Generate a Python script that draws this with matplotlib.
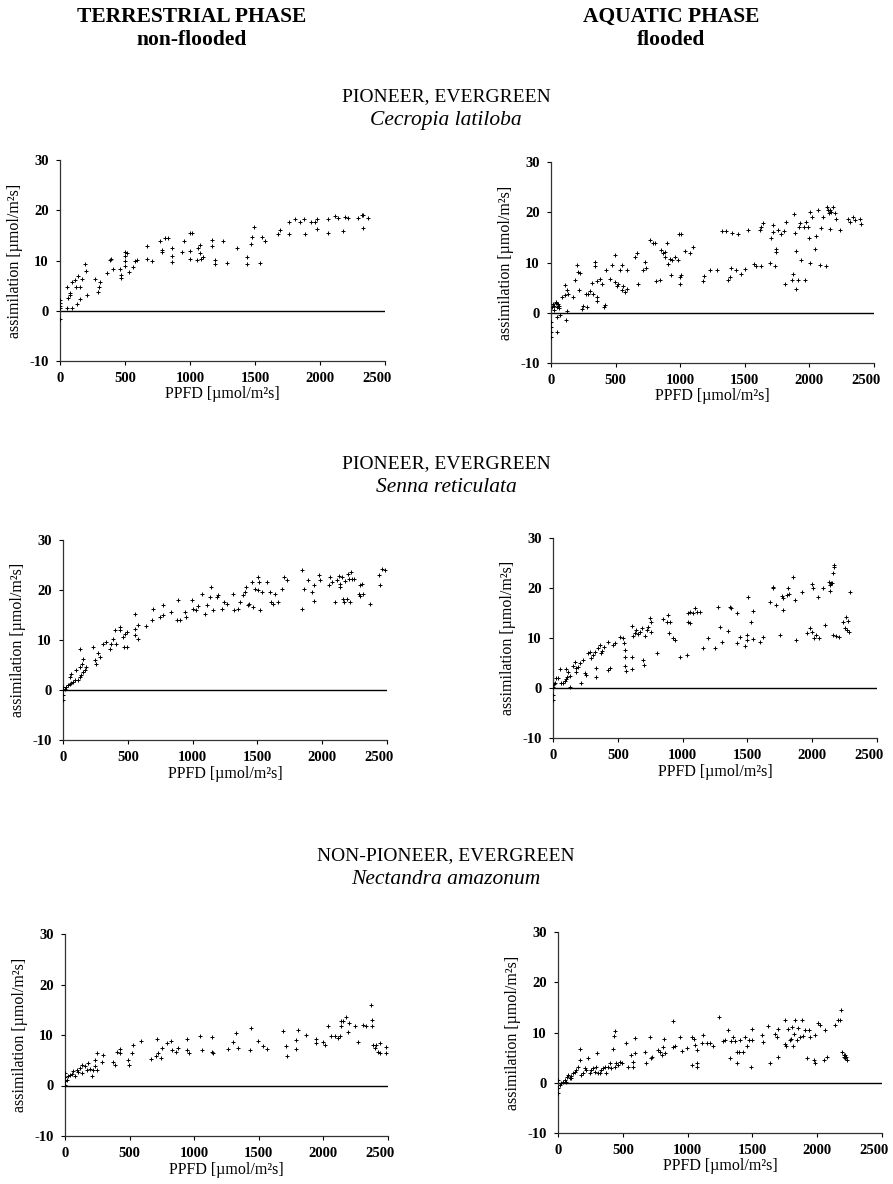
import matplotlib
matplotlib.use("Agg")
import matplotlib.pyplot as plt
import matplotlib.transforms as mtransforms

plt.rcParams['font.family'] = ['Liberation Serif', 'DejaVu Serif']
plt.rcParams['axes.unicode_minus'] = False

# ---- data ----
# Cecropia latiloba, terrestrial
cec_t_x = [0, 0, 0, 0, 0, 51, 64, 77, 80, 51, 90, 115, 123, 141, 154, 133, 154, 167, 90,
           192, 197, 205, 269, 295, 300, 308, 385, 392, 410, 364, 462, 467, 467, 513, 531,
           500, 500, 500, 500, 564, 577, 595, 667, 667, 705, 769, 782, 782, 808, 833,
           859, 859, 859, 936, 956, 1000, 1000, 1013, 1000, 1051, 1064, 1077, 1077, 1085,
           1097, 1167, 1167, 1192, 1192, 1256, 1287, 1364, 1436, 1436, 1467, 1474, 1492,
           1538, 1551, 1577, 1679, 1692, 1764, 1764, 1808, 1846, 1877, 1885, 1928, 1962,
           1979, 1979, 2064, 2064, 2115, 2141, 2179, 2192, 2218, 2295, 2321, 2333, 2333, 2372]
cec_t_y = [2.2, 1.5, 1.0, 0.5, -1.7, 0.5, 2.5, 3.2, 3.5, 4.8, 5.8, 6.1, 4.8, 6.9, 4.8, 1.4, 2.4, 6.3, 0.5,
           9.3, 8.0, 3.2, 6.3, 3.8, 4.8, 5.7, 10.1, 10.3, 8.3, 7.6, 8.4, 7.1, 6.5, 11.4, 7.7,
           11.7, 10.9, 10.0, 9.0, 8.8, 9.9, 10.1, 12.9, 10.3, 9.9, 13.9, 12.1, 11.7, 14.4, 14.4,
           12.4, 10.9, 9.8, 11.7, 13.9, 11.9, 15.4, 15.4, 10.3, 10.1, 12.4, 13.1, 11.4, 10.3,
           10.6, 14.1, 12.9, 10.1, 9.3, 13.9, 9.6, 12.5, 10.6, 9.3, 13.3, 14.6, 16.7,
           9.6, 14.6, 13.9, 15.2, 16.0, 15.2, 17.7, 18.3, 17.7, 18.2, 15.2, 17.7, 17.7,
           18.3, 16.2, 18.2, 15.5, 18.8, 18.5, 15.9, 18.7, 18.5, 18.5, 19.0, 19.1, 16.5, 18.5]

# Cecropia latiloba, aquatic
cec_a_x = [0, 0, 0, 0, 44, 44, 70, 5, 15, 25, 35, 45, 55, 65, 20, 40, 60, 82, 108, 108, 121,
           134, 116, 121, 173, 185, 198, 206, 219, 224, 237, 250, 270, 276, 289, 301, 314,
           327, 340, 340, 353, 358, 353, 379, 391, 409, 417, 425, 456, 469, 495, 495, 507,
           520, 533, 546, 546, 559, 572, 585, 585, 649, 662, 675, 714, 727, 739, 765, 791,
           804, 812, 843, 855, 868, 881, 881, 894, 907, 920, 925, 940, 958, 984, 992, 1010,
           997, 997, 1010, 1036, 1075, 1100, 1173, 1183, 1229, 1281, 1327, 1353, 1371, 1389,
           1397, 1404, 1435, 1448, 1474, 1500, 1526, 1572, 1590, 1629, 1616, 1629, 1642,
           1693, 1706, 1719, 1719, 1732, 1740, 1745, 1758, 1783, 1801, 1809, 1822, 1868,
           1874, 1879, 1886, 1894, 1899, 1912, 1920, 1930, 1938, 1956, 1963, 1971, 1989,
           1997, 2002, 2007, 2023, 2041, 2054, 2067, 2080, 2093, 2106, 2131, 2136, 2144,
           2152, 2157, 2162, 2170, 2183, 2196, 2208, 2234, 2299, 2317, 2337, 2350, 2388, 2401]
cec_a_y = [-1.9, -2.9, -3.9, -4.9, -3.9, -0.9, -0.5, 1.2, 1.8, 1.4, 2.0, 1.1, 1.7, 1.3, 0.6, 2.2, 0.9,
           3.1, 3.5, 5.5, 4.6, 3.8, -1.5, 0.3, 3.1, 6.5, 9.5, 8.1, 4.5, 7.9, 0.8, 1.3, 3.8, 1.1,
           3.8, 4.3, 5.9, 3.8, 10.1, 9.3, 3.1, 2.3, 6.3, 6.8, 5.8, 1.1, 1.5, 8.6, 6.8, 9.5,
           11.5, 6.1, 5.3, 5.8, 8.5, 9.5, 4.6, 5.3, 4.1, 4.8, 8.5, 11.0, 11.9, 5.8, 8.6, 10.1,
           9.0, 14.5, 13.9, 13.9, 6.3, 6.5, 12.5, 11.9, 12.1, 11.0, 13.8, 9.8, 10.6, 7.5, 10.5,
           11.0, 10.5, 15.6, 15.6, 7.1, 5.8, 7.6, 12.3, 11.9, 13.1, 6.3, 7.3, 8.6, 8.6, 16.3,
           16.3, 6.5, 7.1, 8.9, 15.8, 8.5, 15.6, 7.7, 8.8, 16.5, 9.8, 9.3, 9.3, 16.5, 17.1,
           17.9, 9.9, 14.8, 16.1, 17.5, 9.3, 12.6, 12.1, 16.5, 15.7, 16.3, 5.7, 18.1, 6.6,
           7.8, 19.6, 15.8, 12.3, 4.8, 6.6, 17.1, 17.8, 10.5, 17.1, 6.5, 18.1, 17.1, 14.8,
           20.1, 9.9, 19.0, 12.6, 15.3, 20.5, 9.5, 16.8, 19.1, 9.3, 21.0, 20.5, 19.8, 16.6,
           20.4, 20.0, 21.1, 19.8, 18.6, 16.5, 18.6, 18.1, 19.0, 18.5, 18.6, 17.6]

# Senna reticulata, terrestrial
sen_t_x = [0, 0, 0, 0, 13, 26, 39, 52, 64, 77, 52, 64, 90, 103, 116, 129, 142, 150, 129, 155, 168,
           129, 155, 180, 232, 245, 258, 271, 283, 309, 335, 361, 374, 399, 387, 412, 438,
           438, 464, 477, 490, 469, 490, 554, 554, 554, 575, 575, 644, 683, 696, 747, 768,
           773, 837, 876, 902, 889, 941, 948, 992, 1005, 1025, 1044, 1069, 1095, 1108, 1134,
           1139, 1160, 1185, 1198, 1224, 1242, 1262, 1314, 1322, 1353, 1366, 1392, 1405,
           1412, 1430, 1438, 1456, 1469, 1482, 1507, 1507, 1515, 1520, 1533, 1572, 1598,
           1606, 1624, 1636, 1662, 1688, 1706, 1731, 1843, 1843, 1856, 1894, 1920, 1933,
           1933, 1972, 1985, 2049, 2062, 2074, 2100, 2113, 2126, 2134, 2139, 2152, 2160,
           2165, 2178, 2190, 2196, 2203, 2216, 2221, 2229, 2242, 2281, 2288, 2293, 2306,
           2314, 2371, 2435, 2448, 2461, 2487]
sen_t_y = [0.7, 0.0, -1.0, -2.0, 0.3, 0.7, 1.0, 1.3, 1.5, 1.7, 2.7, 3.3, 2.1, 4.0, 2.0, 2.7, 3.0, 5.3,
           4.7, 3.7, 4.0, 8.3, 6.3, 4.7, 8.7, 6.0, 5.3, 7.5, 6.7, 9.3, 9.7, 8.3, 9.2, 12.0,
           10.3, 9.3, 12.7, 12.0, 10.7, 11.3, 11.7, 8.7, 8.7, 15.3, 12.3, 11.0, 10.3, 13.0,
           12.8, 14.1, 16.3, 14.7, 15.0, 17.0, 15.7, 14.0, 14.0, 18.0, 15.7, 14.7, 18.0,
           16.3, 16.0, 16.8, 19.3, 15.3, 17.0, 18.7, 20.7, 16.0, 18.7, 19.0, 16.3, 17.7,
           17.3, 19.3, 16.0, 16.3, 17.7, 19.0, 19.7, 20.7, 17.0, 17.3, 21.7, 16.7, 20.3,
           20.0, 22.7, 21.7, 16.0, 19.7, 21.7, 19.7, 17.7, 17.3, 19.3, 17.7, 20.3, 22.7,
           22.0, 24.0, 16.3, 20.3, 22.0, 19.7, 17.8, 21.0, 23.1, 22.1, 21.0, 22.7, 21.7,
           17.7, 22.0, 22.8, 21.3, 20.7, 22.7, 18.3, 17.7, 21.8, 18.3, 23.3, 22.3, 17.7,
           23.7, 22.3, 22.3, 19.3, 21.0, 18.8, 21.3, 19.2, 17.3, 23.0, 21.0, 24.3, 24.0]

# Senna reticulata, aquatic
sen_a_x = [0, 0, 0, 5, 26, 39, 13, 52, 64, 77, 90, 103, 108, 116, 98, 129, 134, 155, 168, 175,
           180, 193, 206, 219, 232, 245, 258, 271, 283, 296, 309, 322, 330, 335, 348, 361,
           374, 381, 392, 425, 438, 425, 464, 477, 515, 541, 546, 557, 559, 559, 562, 606,
           613, 613, 619, 632, 644, 657, 670, 683, 691, 701, 709, 722, 735, 747, 753, 760,
           799, 850, 876, 889, 897, 902, 928, 941, 979, 1031, 1044, 1044, 1057, 1057, 1082,
           1095, 1108, 1134, 1160, 1198, 1250, 1276, 1289, 1301, 1353, 1366, 1371, 1417,
           1417, 1443, 1482, 1495, 1495, 1503, 1526, 1541, 1546, 1598, 1623, 1675, 1696,
           1701, 1722, 1752, 1765, 1773, 1778, 1804, 1817, 1824, 1855, 1868, 1876, 1920,
           1959, 1984, 1997, 1997, 2010, 2015, 2031, 2041, 2049, 2087, 2100, 2126, 2134,
           2139, 2144, 2152, 2160, 2165, 2170, 2160, 2185, 2203, 2237, 2255, 2263, 2273,
           2268, 2281, 2293]
sen_a_y = [0.3, -1.3, -2.3, 0.8, 2.0, 2.0, 1.0, 3.8, 1.0, 1.1, 1.5, 1.8, 2.3, 3.3, 3.8, 2.5, 0.3,
           4.5, 5.3, 4.0, 3.3, 4.3, 5.0, 1.0, 5.7, 3.0, 2.7, 7.0, 7.3, 6.0, 6.7, 7.3, 2.3,
           4.0, 8.0, 8.7, 7.0, 7.5, 8.3, 3.7, 4.0, 9.3, 8.7, 9.0, 10.2, 10.0, 9.0, 7.7, 6.3,
           4.5, 3.5, 6.3, 3.8, 12.5, 10.5, 11.0, 11.7, 10.9, 11.3, 12.0, 5.7, 4.7, 10.5,
           11.7, 12.3, 14.0, 11.3, 13.2, 7.0, 13.8, 13.3, 14.7, 11.0, 13.3, 10.0, 9.7, 6.2,
           6.7, 13.3, 15.0, 15.3, 13.0, 15.0, 16.0, 15.3, 15.3, 8.0, 10.0, 8.0, 16.2, 12.3,
           9.2, 11.5, 16.2, 16.0, 15.0, 9.0, 10.3, 8.5, 9.7, 10.7, 18.3, 13.3, 15.5, 9.8,
           9.3, 10.3, 17.3, 20.0, 20.3, 16.7, 10.7, 18.5, 18.0, 15.7, 18.7, 20.0, 18.9,
           22.2, 17.7, 9.7, 19.2, 11.0, 12.0, 20.9, 11.3, 20.0, 10.0, 10.7, 18.3, 10.0,
           20.0, 12.7, 21.3, 20.7, 19.5, 21.0, 21.0, 23.0, 24.7, 24.3, 10.7, 10.5, 10.2,
           13.3, 12.0, 14.3, 13.5, 11.7, 11.3, 19.2]

# Nectandra amazonum, terrestrial
nec_t_x = [0, 0, 0, 0, 13, 26, 39, 52, 64, 77, 90, 103, 116, 129, 129, 155, 168, 180, 193, 206,
           219, 232, 245, 232, 245, 283, 296, 374, 387, 399, 425, 425, 490, 497, 515, 528,
           585, 663, 702, 714, 719, 740, 753, 791, 822, 830, 856, 874, 946, 946, 959, 1044,
           1057, 1134, 1134, 1147, 1263, 1301, 1327, 1340, 1430, 1443, 1495, 1533, 1564,
           1688, 1714, 1719, 1791, 1791, 1804, 1868, 1939, 1945, 1996, 2009, 2035, 2061,
           2087, 2113, 2126, 2139, 2139, 2151, 2177, 2190, 2197, 2242, 2268, 2306, 2332,
           2371, 2378, 2378, 2384, 2397, 2410, 2422, 2435, 2440, 2487, 2487]
nec_t_y = [2.4, 1.6, 0.8, 0.1, 1.1, 1.8, 2.1, 2.3, 2.8, 1.8, 3.1, 2.6, 3.4, 4.1, 2.4, 3.8, 3.1,
           4.4, 3.2, 1.8, 3.1, 3.8, 6.4, 5.1, 3.1, 4.6, 6.1, 4.6, 4.1, 6.7, 7.2, 6.4, 5.1,
           4.0, 6.4, 8.1, 8.9, 5.2, 5.8, 9.2, 6.4, 5.4, 7.4, 8.4, 8.9, 7.1, 6.7, 7.4, 9.2,
           7.1, 6.4, 9.8, 7.1, 9.7, 6.7, 6.4, 7.2, 8.7, 10.4, 7.4, 7.1, 11.4, 8.9, 7.9, 7.2,
           10.7, 7.9, 5.9, 9.1, 7.2, 11.0, 10.0, 9.2, 8.5, 8.7, 8.1, 11.7, 9.8, 9.8, 9.4,
           9.8, 12.8, 11.7, 12.7, 13.5, 10.5, 12.3, 11.8, 8.7, 12.0, 11.8, 15.9, 13.0, 11.8,
           8.1, 7.4, 8.1, 6.7, 8.5, 6.4, 7.7, 6.4]

# Nectandra amazonum, aquatic
nec_a_x = [0, 0, 0, 13, 26, 39, 52, 64, 70, 77, 90, 103, 103, 116, 129, 142, 155, 168, 173, 180,
           193, 206, 219, 232, 245, 258, 271, 283, 296, 301, 309, 322, 335, 348, 361, 374,
           387, 399, 412, 425, 430, 438, 438, 451, 464, 477, 490, 528, 541, 567, 580, 580,
           593, 593, 670, 678, 709, 714, 722, 773, 786, 799, 812, 820, 825, 889, 889, 902,
           941, 953, 992, 1031, 1036, 1049, 1057, 1070, 1075, 1075, 1108, 1121, 1147, 1173,
           1198, 1245, 1276, 1289, 1314, 1327, 1332, 1353, 1366, 1379, 1379, 1399, 1405,
           1430, 1443, 1456, 1476, 1487, 1494, 1494, 1572, 1585, 1623, 1636, 1675, 1688,
           1701, 1701, 1752, 1752, 1760, 1778, 1791, 1796, 1804, 1817, 1822, 1829, 1842,
           1855, 1868, 1881, 1889, 1907, 1920, 1933, 1946, 1972, 1985, 1985, 2010, 2023,
           2049, 2062, 2075, 2139, 2157, 2178, 2186, 2191, 2204, 2209, 2216, 2224, 2229, 2216]
nec_a_y = [0.5, -1.0, -2.1, -0.5, 0.0, 0.2, 0.5, 0.2, 1.2, 1.5, 0.9, 1.3, 0.9, 1.9, 2.2, 2.5,
           3.2, 4.5, 6.7, 1.5, 1.9, 2.9, 2.5, 4.9, 1.9, 2.5, 2.9, 2.2, 3.2, 5.9, 1.9, 1.9,
           2.5, 2.9, 3.2, 1.9, 3.2, 3.9, 2.9, 6.7, 9.3, 10.2, 3.2, 3.9, 3.5, 4.1, 4.0, 7.9,
           3.2, 5.5, 3.2, 4.2, 8.9, 5.9, 6.2, 3.9, 9.2, 4.9, 5.2, 6.5, 6.2, 5.5, 7.2, 8.8,
           6.0, 12.2, 7.2, 7.3, 9.2, 6.4, 6.9, 9.2, 3.5, 8.7, 7.5, 4.0, 3.2, 6.5, 7.9, 9.5,
           8.0, 8.0, 7.3, 13.0, 8.4, 8.5, 10.4, 4.9, 8.4, 9.2, 8.4, 3.9, 6.2, 6.2, 8.5, 6.2,
           9.2, 7.3, 8.5, 3.2, 8.6, 10.6, 9.5, 8.2, 11.3, 4.0, 9.8, 9.2, 10.6, 5.2, 12.5,
           7.7, 7.3, 10.6, 8.5, 8.8, 11.0, 7.3, 9.8, 12.5, 8.5, 10.8, 9.2, 12.5, 9.3, 10.5,
           4.9, 10.5, 9.2, 4.5, 3.9, 9.5, 11.8, 11.5, 4.5, 10.5, 5.2, 11.5, 12.5, 12.5, 14.5,
           6.2, 5.2, 5.5, 4.9, 5.2, 4.5, 5.5]

panels = [
    (cec_t_x, cec_t_y, (60, 385, 160, 361)),
    (cec_a_x, cec_a_y, (551, 874, 162, 363)),
    (sen_t_x, sen_t_y, (63, 387, 540, 740)),
    (sen_a_x, sen_a_y, (553, 877, 538, 738)),
    (nec_t_x, nec_t_y, (65, 388, 934, 1136)),
    (nec_a_x, nec_a_y, (558, 882, 932, 1133)),
]

W, H = 893, 1184
fig = plt.figure(figsize=(W / 100, H / 100), dpi=100)
shift_left = mtransforms.ScaledTranslation(-8 / 100, 0, fig.dpi_scale_trans)

for x, y, (l, r, t, b) in panels:
    ax = fig.add_axes([l / W, 1 - b / H, (r - l) / W, (b - t) / H])
    ax.scatter(x, y, marker='+', s=9, linewidths=0.7, color='black', zorder=3)
    ax.axhline(0, color='black', lw=1.0)
    ax.set_xlim(0, 2500)
    ax.set_ylim(-10, 30)
    ax.set_xticks([0, 500, 1000, 1500, 2000, 2500])
    ax.set_yticks([-10, 0, 10, 20, 30])
    for s in ['top', 'right']:
        ax.spines[s].set_visible(False)
    for s in ['left', 'bottom']:
        ax.spines[s].set_color('#333333')
        ax.spines[s].set_linewidth(0.9)
    ax.tick_params(direction='out', length=3, width=0.8, pad=5, labelsize=10.5)
    for lab in ax.get_xticklabels() + ax.get_yticklabels():
        lab.set_fontweight('bold')
    # the last x label sits a little left of its tick in the original
    last = ax.get_xticklabels()[-1]
    last.set_transform(last.get_transform() + shift_left)
    ax.set_xlabel('PPFD [µmol/m²s]', fontsize=11.5, labelpad=1)
    ax.set_ylabel('assimilation [µmol/m²s]', fontsize=11.5, labelpad=5)

# column headers
fig.text(192 / W, 1 - 17 / H, 'TERRESTRIAL PHASE', ha='center', va='center', fontsize=15.5, fontweight='bold')
fig.text(192 / W, 1 - 40 / H, 'non-flooded', ha='center', va='center', fontsize=15.5, fontweight='bold')
fig.text(671 / W, 1 - 17 / H, 'AQUATIC PHASE', ha='center', va='center', fontsize=15.5, fontweight='bold')
fig.text(671 / W, 1 - 40 / H, 'flooded', ha='center', va='center', fontsize=15.5, fontweight='bold')

# species titles
titles = [
    ('PIONEER, EVERGREEN', 'Cecropia latiloba', 97, 121),
    ('PIONEER, EVERGREEN', 'Senna reticulata', 464, 488),
    ('NON-PIONEER, EVERGREEN', 'Nectandra amazonum', 856, 880),
]
for group, species, y1, y2 in titles:
    fig.text(446 / W, 1 - y1 / H, group, ha='center', va='center', fontsize=14)
    fig.text(446 / W, 1 - y2 / H, species, ha='center', va='center', fontsize=15.5, style='italic')

fig.savefig('out.png', dpi=100)
